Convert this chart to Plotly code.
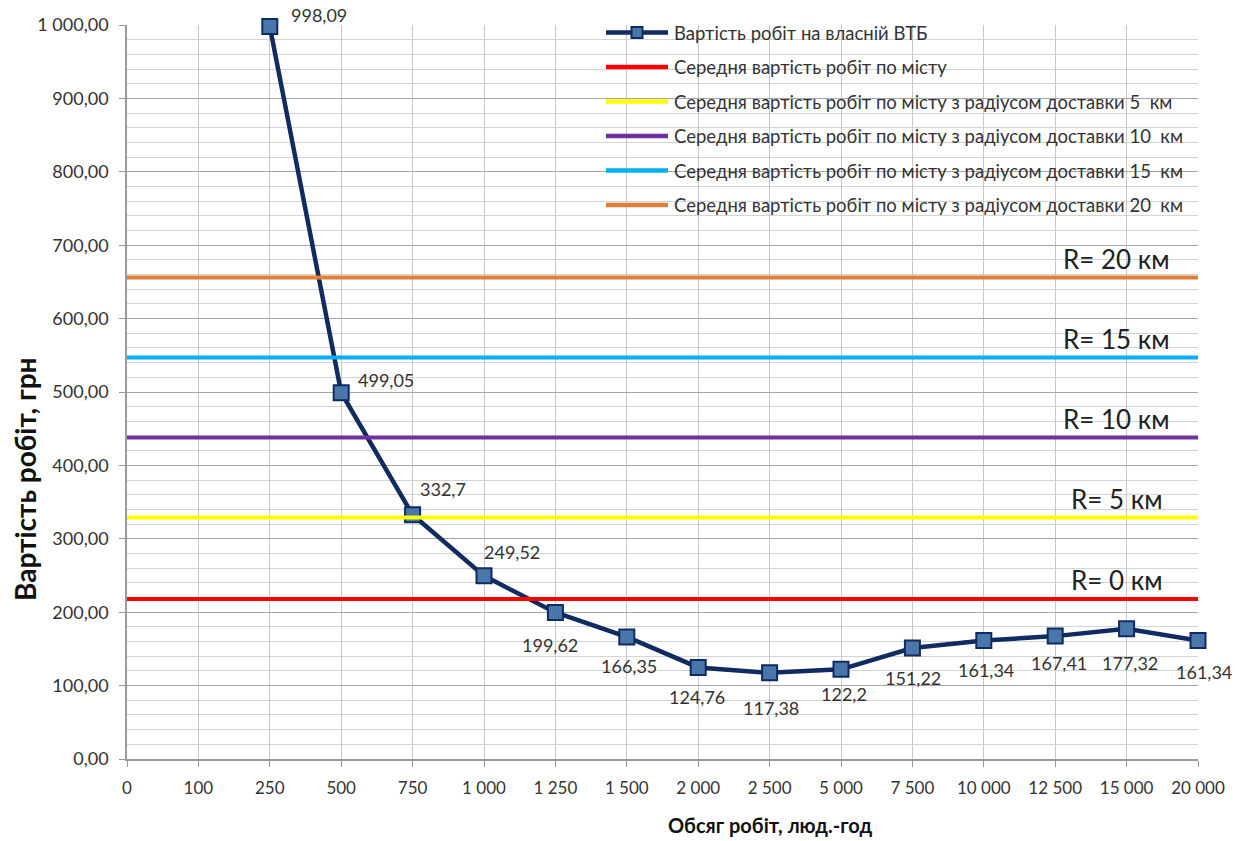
import plotly.graph_objects as go

# ---------------- data ----------------
categories = ["0", "100", "250", "500", "750", "1 000", "1 250", "1 500", "2 000",
              "2 500", "5 000", "7 500", "10 000", "12 500", "15 000", "20 000"]
own_cost_categories = categories[2:]
own_cost = [998.09, 499.05, 332.7, 249.52, 199.62, 166.35, 124.76, 117.38,
            122.2, 151.22, 161.34, 167.41, 177.32, 161.34]

series_names = [
    "Вартість робіт на власній ВТБ",
    "Середня вартість робіт по місту",
    "Середня вартість робіт по місту з радіусом доставки 5  км",
    "Середня вартість робіт по місту з радіусом доставки 10  км",
    "Середня вартість робіт по місту з радіусом доставки 15  км",
    "Середня вартість робіт по місту з радіусом доставки 20  км",
]
avg_levels = [218, 329, 438, 547, 656]        # R = 0, 5, 10, 15, 20 km
radius_labels = ["R= 0 км", "R= 5 км", "R= 10 км", "R= 15 км", "R= 20 км"]

x_title = "Обсяг робіт, люд.-год"
y_title = "Вартість робіт, грн"

# ---------------- styles ----------------
FONT = "Lato"
TXT = "#333333"
level_colors = ["#ff0000", "#ffff00", "#7030a0", "#00b0f0", "#e07f38"]
navy = "#0f2b5f"
marker_fill = "#4a77ab"
# label offsets (px) for data labels: (dx, dy)
label_offsets = [(49, 11), (45, 13), (30, 26), (28, 24), (-5, -33), (2, -29),
                 (-1, -30), (1, -35), (3, -25), (1, -30), (2, -29), (4, -27),
                 (3, -34), (6, -31)]

cat_index = {c: i for i, c in enumerate(categories)}
own_x = [cat_index[c] for c in own_cost_categories]
all_x = list(range(len(categories)))

fig = go.Figure()

fig.add_trace(go.Scatter(
    x=own_x, y=own_cost, mode="lines+markers", name=series_names[0],
    line=dict(color=navy, width=4.5),
    marker=dict(symbol="square", size=15, color=marker_fill,
                line=dict(color=navy, width=2)),
    showlegend=False, cliponaxis=False,
))

for val, col, name in zip(avg_levels, level_colors, series_names[1:]):
    fig.add_trace(go.Scatter(
        x=all_x, y=[val] * len(all_x), mode="lines", name=name,
        line=dict(color=col, width=4), showlegend=False, cliponaxis=False,
    ))

annotations = []
# data labels
for xi, v, (dx, dy) in zip(own_x, own_cost, label_offsets):
    annotations.append(dict(
        x=xi, y=v, xref="x", yref="y", text=f"{v:g}".replace(".", ","),
        showarrow=False, xshift=dx, yshift=dy,
        font=dict(family=FONT, size=18, color=TXT),
    ))
# R labels
for val, lab in zip(avg_levels, radius_labels):
    annotations.append(dict(
        x=13.86, y=val, xref="x", yref="y", text=lab, showarrow=False,
        yshift=19, font=dict(family=FONT, size=26, color="#222222"),
    ))

# plot-area pixel geometry helpers (for legend & titles)
L, R, T, B = 127, 48, 25, 82
W, H = 1246, 841
pw, ph = W - L - R, H - T - B
def px(xp):
    return (xp - L) / pw
def py(yp):
    return (H - B - yp) / ph

shapes = []
legend_colors = [navy] + level_colors
for i, (name, col) in enumerate(zip(series_names, legend_colors)):
    yrow = 32.5 + 34.5 * i
    shapes.append(dict(type="line", xref="paper", yref="paper",
                       x0=px(606), x1=px(668), y0=py(yrow), y1=py(yrow),
                       line=dict(color=col, width=4.5)))
    annotations.append(dict(
        x=px(672), y=py(yrow), xref="paper", yref="paper", text=name,
        showarrow=False, xanchor="left", yanchor="middle",
        font=dict(family=FONT, size=18.5, color=TXT),
    ))
# legend marker for first series
shapes.append(dict(type="rect", xref="paper", yref="paper",
                   x0=px(631.5), x1=px(642.5), y0=py(38), y1=py(27),
                   fillcolor=marker_fill, line=dict(color=navy, width=2)))

# axis titles
annotations.append(dict(
    x=px(25), y=py(479), xref="paper", yref="paper", text=f"<b>{y_title}</b>",
    textangle=-90, showarrow=False, xanchor="center", yanchor="middle",
    font=dict(family=FONT, size=28, color="#111111"),
))
annotations.append(dict(
    x=px(770), y=py(825), xref="paper", yref="paper", text=f"<b>{x_title}</b>",
    showarrow=False, xanchor="center", yanchor="middle",
    font=dict(family=FONT, size=20, color="#111111"),
))

fig.update_layout(
    width=W, height=H,
    margin=dict(l=L, r=R, t=T, b=B, pad=0),
    paper_bgcolor="white", plot_bgcolor="white",
    separators=", ",
    showlegend=False,
    annotations=annotations,
    shapes=shapes,
    font=dict(family=FONT, color=TXT),
)

fig.update_xaxes(
    range=[0, len(categories) - 1], tickmode="array", tickvals=all_x,
    ticktext=categories, showgrid=True, gridcolor="#c8c8c8", gridwidth=1,
    showline=True, linecolor="#9a9a9a", linewidth=1.5,
    ticks="outside", ticklen=6, tickcolor="#9a9a9a", ticklabelstandoff=7,
    tickfont=dict(family=FONT, size=17, color=TXT), zeroline=False,
)
fig.update_yaxes(
    range=[0, 1000], dtick=100, tickformat=",.2f",
    showgrid=True, gridcolor="#a6a6a6", gridwidth=1,
    minor=dict(dtick=20, showgrid=True, gridcolor="#d4d4d4", gridwidth=1),
    showline=True, linecolor="#9a9a9a", linewidth=1.5,
    ticks="outside", ticklen=6, tickcolor="#9a9a9a", ticklabelstandoff=7,
    tickfont=dict(family=FONT, size=18, color=TXT), zeroline=False,
)

fig.write_html("out.html")
